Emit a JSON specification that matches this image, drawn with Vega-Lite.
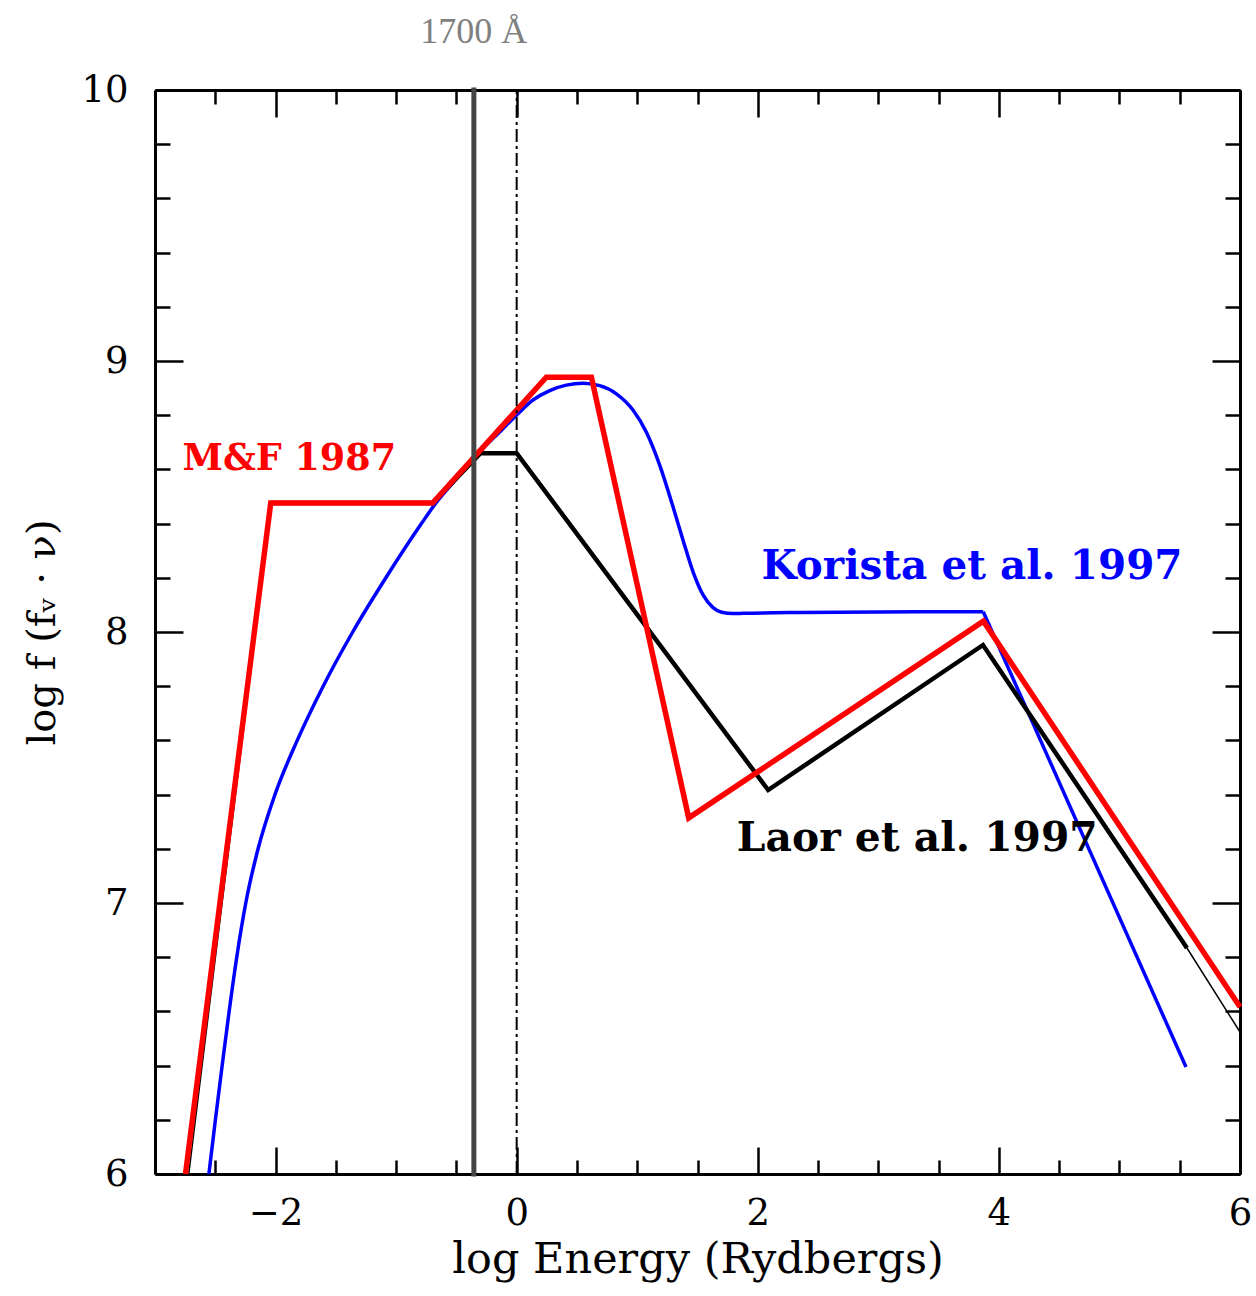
{
  "$schema": "https://vega.github.io/schema/vega-lite/v6.json",
  "width": 1085,
  "height": 1084,
  "autosize": {"type": "none"},
  "padding": {"left": 155, "top": 90, "right": 16, "bottom": 122},
  "background": "white",
  "config": {"view": {"stroke": null}, "font": "DejaVu Serif"},
  "datasets": {
    "korista": [
      {"x": -2.553, "y": 6.0}, {"x": -2.499, "y": 6.2}, {"x": -2.443, "y": 6.4}, {"x": -2.385, "y": 6.6},
      {"x": -2.322, "y": 6.8}, {"x": -2.247, "y": 7.0}, {"x": -2.145, "y": 7.2}, {"x": -2.005, "y": 7.4},
      {"x": -1.82, "y": 7.6}, {"x": -1.605, "y": 7.8}, {"x": -1.36, "y": 8.0}, {"x": -1.085, "y": 8.2},
      {"x": -0.79, "y": 8.4}, {"x": -0.68, "y": 8.47}, {"x": -0.5, "y": 8.565}, {"x": -0.3, "y": 8.668},
      {"x": -0.141, "y": 8.738}, {"x": 0.0, "y": 8.801}, {"x": 0.135, "y": 8.856}, {"x": 0.274, "y": 8.891},
      {"x": 0.412, "y": 8.911}, {"x": 0.55, "y": 8.918}, {"x": 0.689, "y": 8.909}, {"x": 0.827, "y": 8.879},
      {"x": 0.965, "y": 8.819}, {"x": 1.076, "y": 8.737}, {"x": 1.187, "y": 8.615}, {"x": 1.297, "y": 8.462},
      {"x": 1.38, "y": 8.339}, {"x": 1.463, "y": 8.222}, {"x": 1.546, "y": 8.137}, {"x": 1.629, "y": 8.09},
      {"x": 1.7, "y": 8.073}, {"x": 1.795, "y": 8.068}, {"x": 1.878, "y": 8.069}, {"x": 2.349, "y": 8.072},
      {"x": 3.0, "y": 8.074}, {"x": 3.87, "y": 8.075}
    ],
    "koristaTail": [
      {"x": 3.87, "y": 8.075}, {"x": 5.552, "y": 6.395}
    ],
    "laorThin": [
      {"x": -2.72, "y": 6.0}, {"x": -2.035, "y": 8.476}, {"x": -0.697, "y": 8.476}, {"x": -0.3, "y": 8.66},
      {"x": 0.0, "y": 8.66}, {"x": 2.086, "y": 7.417}, {"x": 3.868, "y": 7.952}, {"x": 5.56, "y": 6.834},
      {"x": 6.0, "y": 6.524}
    ],
    "laor": [
      {"x": -2.035, "y": 8.476}, {"x": -0.697, "y": 8.476}, {"x": -0.3, "y": 8.66}, {"x": 0.0, "y": 8.66},
      {"x": 2.086, "y": 7.417}, {"x": 3.868, "y": 7.952}, {"x": 5.56, "y": 6.834}
    ],
    "mf": [
      {"x": -2.747, "y": 6.0}, {"x": -2.04, "y": 8.476}, {"x": -0.697, "y": 8.476}, {"x": 0.246, "y": 8.94},
      {"x": 0.62, "y": 8.94}, {"x": 1.427, "y": 7.314}, {"x": 3.872, "y": 8.04}, {"x": 6.0, "y": 6.616}
    ],
    "labels": [
      {"series": "mf", "x": -2.772, "y": 8.598, "text": "M&F 1987"},
      {"series": "korista", "x": 2.031, "y": 8.194, "text": "Korista et al. 1997"},
      {"series": "laor", "x": 1.826, "y": 7.193, "text": "Laor et al. 1997"}
    ],
    "marker": [{"x": -0.355, "y": 6, "y2": 10, "ylab": 10.173, "text": "1700 Å"}],
    "zero": [{"x": 0, "y": 6, "y2": 10}]
  },
  "layer": [
    {
      "data": {"name": "korista"},
      "mark": {"type": "line", "color": "#0000ff", "strokeWidth": 3.5, "interpolate": "monotone"},
      "encoding": {
        "x": {
          "field": "x", "type": "quantitative",
          "scale": {"domain": [-3, 6], "nice": false, "zero": false},
          "axis": {
            "orient": "bottom",
            "values": [-3, -2.5, -2, -1.5, -1, -0.5, 0, 0.5, 1, 1.5, 2, 2.5, 3, 3.5, 4, 4.5, 5, 5.5, 6],
            "title": "log Energy (Rydbergs)",
            "titleFont": "DejaVu Serif", "titleFontSize": 43, "titleFontWeight": "normal", "titleColor": "black",
            "titleY": 98, "titleBaseline": "alphabetic",
            "labelExpr": "datum.value % 2 === 0 ? format(datum.value, 'd') : ''",
            "labelFont": "DejaVu Serif", "labelFontSize": 37, "labelColor": "black",
            "labelPadding": 48, "labelFlush": false, "labelOverlap": false,
            "tickSize": {"condition": {"test": "datum.value % 2 === 0", "value": -27}, "value": -14},
            "tickWidth": 2.5, "tickColor": "black",
            "domainColor": "black", "domainWidth": 3, "grid": false
          }
        },
        "y": {
          "field": "y", "type": "quantitative",
          "scale": {"domain": [6, 10], "nice": false, "zero": false},
          "axis": {
            "orient": "left",
            "values": [6, 6.2, 6.4, 6.6, 6.8, 7, 7.2, 7.4, 7.6, 7.8, 8, 8.2, 8.4, 8.6, 8.8, 9, 9.2, 9.4, 9.6, 9.8, 10],
            "title": "log f (fᵥ · ν)",
            "titleFont": "DejaVu Serif", "titleFontSize": 40, "titleFontWeight": "normal", "titleColor": "black",
            "titleX": -101, "titleBaseline": "alphabetic", "titleAngle": 270,
            "labelExpr": "datum.value % 1 === 0 ? format(datum.value, 'd') : ''",
            "labelFont": "DejaVu Serif", "labelFontSize": 37, "labelColor": "black",
            "labelPadding": 55, "labelFlush": false, "labelOverlap": false,
            "tickSize": {"condition": {"test": "datum.value % 1 === 0", "value": -28}, "value": -15},
            "tickWidth": 2.5, "tickColor": "black",
            "domainColor": "black", "domainWidth": 3, "grid": false
          }
        }
      }
    },
    {
      "data": {"name": "koristaTail"},
      "mark": {"type": "line", "color": "#0000ff", "strokeWidth": 3.5},
      "encoding": {
        "x": {"field": "x", "type": "quantitative", "axis": null},
        "y": {"field": "y", "type": "quantitative", "axis": null}
      }
    },
    {
      "data": {"name": "laorThin"},
      "mark": {"type": "line", "color": "black", "strokeWidth": 1.5},
      "encoding": {
        "x": {"field": "x", "type": "quantitative", "axis": null},
        "y": {"field": "y", "type": "quantitative", "axis": null}
      }
    },
    {
      "data": {"name": "laor"},
      "mark": {"type": "line", "color": "black", "strokeWidth": 4.5},
      "encoding": {
        "x": {"field": "x", "type": "quantitative", "axis": null},
        "y": {"field": "y", "type": "quantitative", "axis": null}
      }
    },
    {
      "data": {"name": "mf"},
      "mark": {"type": "line", "color": "#ff0000", "strokeWidth": 5.5},
      "encoding": {
        "x": {"field": "x", "type": "quantitative", "axis": null},
        "y": {"field": "y", "type": "quantitative", "axis": null}
      }
    },
    {
      "data": {"name": "marker"},
      "mark": {"type": "rule", "color": "#444444", "strokeWidth": 5, "strokeCap": "square"},
      "encoding": {
        "x": {"field": "x", "type": "quantitative", "axis": null},
        "y": {"field": "y", "type": "quantitative", "axis": null},
        "y2": {"field": "y2"}
      }
    },
    {
      "data": {"name": "marker"},
      "mark": {"type": "text", "color": "#808080", "font": "Liberation Serif", "fontSize": 36, "align": "center", "baseline": "alphabetic"},
      "encoding": {
        "x": {"field": "x", "type": "quantitative", "axis": null},
        "y": {"field": "ylab", "type": "quantitative", "axis": null},
        "text": {"field": "text"}
      }
    },
    {
      "data": {"name": "labels"},
      "transform": [{"filter": "datum.series === 'mf'"}],
      "mark": {"type": "text", "color": "#ff0000", "font": "DejaVu Serif", "fontWeight": "bold", "fontSize": 36.5, "align": "left", "baseline": "alphabetic"},
      "encoding": {
        "x": {"field": "x", "type": "quantitative", "axis": null},
        "y": {"field": "y", "type": "quantitative", "axis": null},
        "text": {"field": "text"}
      }
    },
    {
      "data": {"name": "labels"},
      "transform": [{"filter": "datum.series === 'korista'"}],
      "mark": {"type": "text", "color": "#0000ff", "font": "DejaVu Serif", "fontWeight": "bold", "fontSize": 40.5, "align": "left", "baseline": "alphabetic"},
      "encoding": {
        "x": {"field": "x", "type": "quantitative", "axis": null},
        "y": {"field": "y", "type": "quantitative", "axis": null},
        "text": {"field": "text"}
      }
    },
    {
      "data": {"name": "labels"},
      "transform": [{"filter": "datum.series === 'laor'"}],
      "mark": {"type": "text", "color": "black", "font": "DejaVu Serif", "fontWeight": "bold", "fontSize": 40.8, "align": "left", "baseline": "alphabetic"},
      "encoding": {
        "x": {"field": "x", "type": "quantitative", "axis": null},
        "y": {"field": "y", "type": "quantitative", "axis": null},
        "text": {"field": "text"}
      }
    },
    {
      "data": {"name": "zero"},
      "mark": {"type": "rule", "color": "black", "strokeWidth": 2, "strokeDash": [13, 4, 3, 4]},
      "encoding": {
        "x": {
          "field": "x", "type": "quantitative",
          "axis": {
            "orient": "top",
            "values": [-3, -2.5, -2, -1.5, -1, -0.5, 0, 0.5, 1, 1.5, 2, 2.5, 3, 3.5, 4, 4.5, 5, 5.5, 6],
            "title": null, "labels": false,
            "tickSize": {"condition": {"test": "datum.value % 2 === 0", "value": -27}, "value": -14},
            "tickWidth": 2.5, "tickColor": "black",
            "domainColor": "black", "domainWidth": 3, "grid": false
          }
        },
        "y": {
          "field": "y", "type": "quantitative",
          "axis": {
            "orient": "right",
            "values": [6, 6.2, 6.4, 6.6, 6.8, 7, 7.2, 7.4, 7.6, 7.8, 8, 8.2, 8.4, 8.6, 8.8, 9, 9.2, 9.4, 9.6, 9.8, 10],
            "title": null, "labels": false,
            "tickSize": {"condition": {"test": "datum.value % 1 === 0", "value": -28}, "value": -15},
            "tickWidth": 2.5, "tickColor": "black",
            "domainColor": "black", "domainWidth": 3, "grid": false
          }
        },
        "y2": {"field": "y2"}
      }
    }
  ],
  "resolve": {"axis": {"x": "independent", "y": "independent"}}
}
